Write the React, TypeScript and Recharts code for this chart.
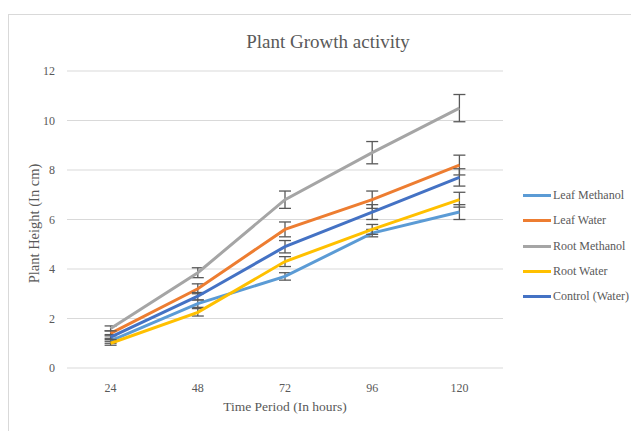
import React from "react";
import { LineChart, Line, XAxis, YAxis, CartesianGrid, ErrorBar, Legend } from "recharts";

const hours = ["24", "48", "72", "96", "120"];
const leafMethanol = [1.1, 2.6, 3.7, 5.45, 6.3];
const leafMethanolErr = [0.1, 0.15, 0.15, 0.15, 0.3];
const leafWater = [1.4, 3.2, 5.6, 6.8, 8.2];
const leafWaterErr = [0.1, 0.2, 0.3, 0.35, 0.4];
const rootMethanol = [1.6, 3.85, 6.8, 8.7, 10.5];
const rootMethanolErr = [0.1, 0.2, 0.35, 0.45, 0.55];
const rootWater = [1.0, 2.25, 4.3, 5.6, 6.8];
const rootWaterErr = [0.08, 0.15, 0.2, 0.2, 0.3];
const control = [1.25, 2.9, 4.9, 6.3, 7.7];
const controlErr = [0.1, 0.15, 0.25, 0.3, 0.35];
const yTicks = [0, 2, 4, 6, 8, 10, 12];

const data = hours.map((h, i) => ({
  hour: h,
  lm: leafMethanol[i],
  lmErr: leafMethanolErr[i],
  lw: leafWater[i],
  lwErr: leafWaterErr[i],
  rm: rootMethanol[i],
  rmErr: rootMethanolErr[i],
  rw: rootWater[i],
  rwErr: rootWaterErr[i],
  ct: control[i],
  ctErr: controlErr[i],
}));

const series = [
  { key: "lm", err: "lmErr", name: "Leaf Methanol", color: "#5B9BD5" },
  { key: "lw", err: "lwErr", name: "Leaf Water", color: "#ED7D31" },
  { key: "rm", err: "rmErr", name: "Root Methanol", color: "#A5A5A5" },
  { key: "rw", err: "rwErr", name: "Root Water", color: "#FFC000" },
  { key: "ct", err: "ctErr", name: "Control (Water)", color: "#4472C4" },
];

const FONT = "'Liberation Serif', 'Times New Roman', serif";
const TEXT = "#595959";

const LegendContent = () => (
  <div style={{ fontFamily: FONT, fontSize: 12, color: TEXT }}>
    {series.map((s) => (
      <div key={s.key} style={{ display: "flex", alignItems: "center", height: 25.3 }}>
        <div style={{ width: 28, height: 3, background: s.color, marginRight: 2 }} />
        <span style={{ fontFamily: FONT, whiteSpace: "nowrap" }}>{s.name}</span>
      </div>
    ))}
  </div>
);

const YLabel = (props: any) => {
  const vb = props.viewBox || {};
  const cx = 25;
  const cy = (vb.y ?? 0) + (vb.height ?? 0) / 2 + 4;
  return (
    <text
      x={cx}
      y={cy}
      transform={`rotate(-90, ${cx}, ${cy})`}
      textAnchor="middle"
      dominantBaseline="central"
      fontFamily={FONT}
      fontSize={14.5}
      fill={TEXT}
    >
      Plant Height (In cm)
    </text>
  );
};

export default function App() {
  return (
    <div
      style={{
        marginTop: 6,
        width: 640,
        height: 430,
        borderLeft: "1px solid #d9d9d9",
        borderTop: "1px solid #d9d9d9",
        position: "relative",
        background: "#fff",
      }}
    >
      <div
        style={{
          position: "absolute",
          left: 0,
          top: 16,
          width: 638,
          textAlign: "center",
          fontFamily: FONT,
          fontSize: 19,
          color: TEXT,
        }}
      >
        Plant Growth activity
      </div>
      <LineChart
        width={640}
        height={420}
        data={data}
        margin={{ top: 56, right: 20, bottom: 37, left: 18 }}
      >
        <CartesianGrid vertical={false} stroke="#d9d9d9" strokeWidth={1} />
        <XAxis
          dataKey="hour"
          axisLine={false}
          tickLine={false}
          height={30}
          padding={{ left: 43.6, right: 43.6 }}
          tick={{ fontFamily: FONT, fontSize: 12, fill: TEXT }}
          tickMargin={9}
          label={{
            value: "Time Period (In hours)",
            position: "bottom",
            offset: 3,
            style: { fontFamily: FONT, fontSize: 13.5, fill: TEXT },
          }}
        />
        <YAxis
          domain={[0, 12]}
          ticks={yTicks}
          axisLine={false}
          tickLine={false}
          width={40}
          tick={{ fontFamily: FONT, fontSize: 12, fill: TEXT }}
          tickMargin={6}
          label={<YLabel />}
        />
        <Legend
          layout="vertical"
          align="right"
          verticalAlign="top"
          content={<LegendContent />}
          wrapperStyle={{ left: 514, top: 168, width: 126 }}
        />
        {series.map((s) => (
          <Line
            key={s.key}
            type="linear"
            dataKey={s.key}
            name={s.name}
            stroke={s.color}
            strokeWidth={3}
            dot={false}
            activeDot={false}
            isAnimationActive={false}
          >
            <ErrorBar dataKey={s.err} width={6} stroke="#595959" strokeWidth={1.3} direction="y" />
          </Line>
        ))}
      </LineChart>
    </div>
  );
}
